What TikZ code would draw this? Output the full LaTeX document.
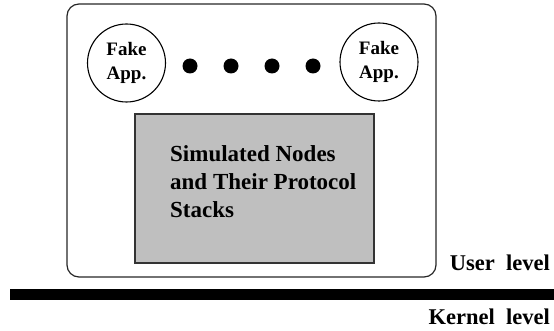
\documentclass[tikz,border=0pt]{standalone}
\usepackage{fontspec}
\setmainfont{Liberation Serif}
\begin{document}
\begin{tikzpicture}[x=1pt,y=-1pt,
  host/.style={draw=black!85, line width=1.2pt, rounded corners=12pt,
    minimum width=369pt, minimum height=273pt, inner sep=0pt},
  app/.style={draw=black, line width=1.1pt, circle, minimum size=78pt,
    inner sep=0pt, align=center,
    font=\fontsize{19}{24}\selectfont\bfseries},
  dot/.style={fill=black, circle, minimum size=15pt, inner sep=0pt},
  simbox/.style={draw=black!80, line width=1.4pt, fill=black!25,
    minimum width=239pt, minimum height=149pt, inner sep=0pt},
  simtext/.style={align=left, inner sep=0pt,
    font=\fontsize{23}{28}\selectfont\bfseries},
  level/.style={inner sep=0pt, font=\fontsize{22.5}{27}\selectfont\bfseries},
  boundary/.style={fill=black, minimum width=544pt, minimum height=11pt, inner sep=0pt}
]
\useasboundingbox (0,0) rectangle (554,331);

% user-level host process
\node[host] (host) at (251.5,140.5) {};

% fake applications and the ones in between
\node[app] (appL) at (126.5,63) {Fake\\App.};
\node[app] (appR) at (379,62) {Fake\\App.};
\node[dot] (d1) at (190,66) {};
\node[dot] (d2) at (231,66) {};
\node[dot] (d3) at (272,66) {};
\node[dot] (d4) at (313,66) {};

% simulated network
\node[simbox] (sim) at (254.5,188.5) {};
\node[simtext, anchor=west] (simlabel) at (170,182)
  {Simulated Nodes\\and Their Protocol\\Stacks};

% user / kernel boundary
\node[level, anchor=east] (user) at (550,263) {User\ \ level};
\node[boundary] (bar) at (282,294.5) {};
\node[level, anchor=east] (kernel) at (550,317) {Kernel\ \ level};
\end{tikzpicture}
\end{document}
